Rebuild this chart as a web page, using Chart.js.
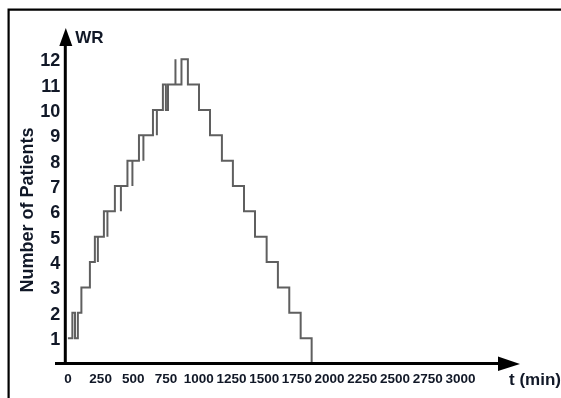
<!DOCTYPE html>
<html>
<head>
<meta charset="utf-8">
<script src="https://cdn.jsdelivr.net/npm/chart.js@4.4.1/dist/chart.umd.min.js"></script>
<style>
  html, body { margin: 0; padding: 0; background: #fff; }
  #wrap { width: 561px; height: 398px; }
</style>
</head>
<body>
<div id="wrap"><canvas id="wrChart" width="561" height="398"></canvas></div>
<script>
// patients in the waiting room, one entry per arrival / departure (t in min)
var eventTimes = [0, 34, 54, 76, 103, 168, 206, 229, 229, 275, 302, 302, 359, 405, 405,
                  455, 493, 493, 543, 577, 577, 650, 680, 680, 726, 749, 765, 822, 822, 868,
                  917, 1002, 1086, 1177, 1261, 1346, 1430, 1519, 1605, 1692, 1779, 1863];
var patients   = [1, 2, 1, 2, 3, 4, 5, 4, 5, 6, 5, 6, 7, 6, 7,
                  8, 7, 8, 9, 8, 9, 10, 9, 10, 11, 10, 11, 12, 11, 12,
                  11, 10, 9, 8, 7, 6, 5, 4, 3, 2, 1, 0];
var xTicks = [0, 250, 500, 750, 1000, 1250, 1500, 1750, 2000, 2250, 2500, 2750, 3000];
var yTicks = [1, 2, 3, 4, 5, 6, 7, 8, 9, 10, 11, 12];

var FONT = "'Liberation Sans', Arial, sans-serif";
var INK = '#111827';

var points = eventTimes.map(function (t, i) { return { x: t, y: patients[i] }; });

// frame, arrow axes and the axis captions
var arrowAxes = {
    id: 'arrowAxes',
    beforeDraw: function (chart) {
        var ctx = chart.ctx;
        ctx.save();
        ctx.strokeStyle = '#000';
        ctx.lineWidth = 2.2;
        ctx.beginPath();
        ctx.moveTo(8.6, 398);
        ctx.lineTo(8.6, 9.7);
        ctx.lineTo(561, 9.7);
        ctx.stroke();
        ctx.restore();
    },
    afterDatasetsDraw: function (chart) {
        var ctx = chart.ctx, a = chart.chartArea;
        var y0 = chart.scales.y.getPixelForValue(0);
        var left = a.left, right = a.right;
        ctx.save();
        ctx.strokeStyle = '#000';
        ctx.fillStyle = '#000';
        ctx.lineWidth = 3;
        ctx.beginPath();
        ctx.moveTo(left, y0 + 1.5);
        ctx.lineTo(left, a.top);
        ctx.moveTo(55, y0);
        ctx.lineTo(right, y0);
        ctx.stroke();
        // arrow heads
        ctx.beginPath();
        ctx.moveTo(left + 0.5, a.top - 17);
        ctx.lineTo(left - 6, a.top + 1);
        ctx.lineTo(left + 7, a.top + 1);
        ctx.closePath();
        ctx.fill();
        ctx.beginPath();
        ctx.moveTo(right + 21, y0 + 0.5);
        ctx.lineTo(right - 1, y0 - 7);
        ctx.lineTo(right - 1, y0 + 7.5);
        ctx.closePath();
        ctx.fill();
        // captions
        ctx.fillStyle = INK;
        ctx.font = 'bold 17px ' + FONT;
        ctx.textAlign = 'left';
        ctx.textBaseline = 'alphabetic';
        ctx.fillText('WR', left + 10, a.top - 2);
        ctx.fillText('t (min)', right + 10, y0 + 21);
        ctx.translate(28.5, 210);
        ctx.rotate(-Math.PI / 2);
        ctx.textAlign = 'center';
        ctx.textBaseline = 'middle';
        ctx.font = 'bold 18px ' + FONT;
        ctx.fillText('Number of Patients', 0, 0);
        ctx.restore();
    }
};

var ctx = document.getElementById('wrChart').getContext('2d');
var myChart = new Chart(ctx, {
    type: 'line',
    data: {
        datasets: [{
            label: 'WR',
            data: points,
            stepped: true,
            borderColor: '#5f5f5f',
            borderWidth: 2,
            pointRadius: 0,
            fill: false
        }]
    },
    options: {
        responsive: false,
        animation: false,
        layout: { padding: { top: 45, right: 62, left: 0, bottom: 0 } },
        plugins: { legend: { display: false }, tooltip: { enabled: false } },
        scales: {
            x: {
                type: 'linear',
                min: -20,
                max: 3295,
                grid: { display: false, drawTicks: false },
                border: { display: false },
                afterBuildTicks: function (scale) {
                    scale.ticks = xTicks.map(function (v) { return { value: v }; });
                },
                afterFit: function (scale) { scale.height = 34.5; },
                ticks: {
                    autoSkip: false,
                    maxRotation: 0,
                    padding: 8,
                    color: INK,
                    font: { family: FONT, size: 13.5, weight: 'bold' },
                    callback: function (v) { return String(v); }
                }
            },
            y: {
                type: 'linear',
                min: 0,
                max: 12.56,
                grid: { display: false, drawTicks: false },
                border: { display: false },
                afterBuildTicks: function (scale) {
                    scale.ticks = yTicks.map(function (v) { return { value: v }; });
                },
                afterFit: function (scale) { scale.width = 65.3; },
                ticks: {
                    padding: 5,
                    labelOffset: 2,
                    color: INK,
                    font: { family: FONT, size: 18, weight: 'bold' },
                    callback: function (v) { return String(v); }
                }
            }
        }
    },
    plugins: [arrowAxes]
});
</script>
</body>
</html>
